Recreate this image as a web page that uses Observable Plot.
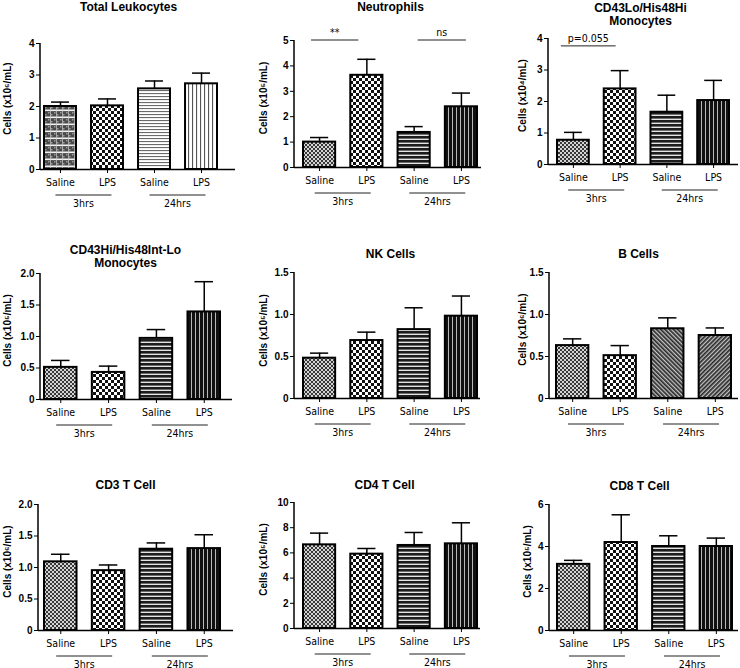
<!DOCTYPE html>
<html><head><meta charset="utf-8">
<script src="https://cdn.jsdelivr.net/npm/d3@7"></script>
<script src="https://cdn.jsdelivr.net/npm/@observablehq/plot@0.6"></script>
<style>
html,body{margin:0;padding:0;background:#fff;}
#root{position:relative;width:740px;height:668px;overflow:hidden;background:#fff;}
svg.panel{position:absolute;overflow:visible;background:transparent !important;}
.panel [aria-label^="y-axis"] text{font-weight:bold;font-family:'Liberation Sans',Arial,sans-serif;font-size:10px;}
.panel [aria-label^="x-axis"] text{font-family:'Liberation Sans Narrow','DejaVu Sans Condensed','Liberation Sans',sans-serif;font-size:10.5px;}
.narrow{font-family:'Liberation Sans Narrow','DejaVu Sans Condensed','Liberation Sans',sans-serif;font-size:10.5px;}
</style></head>
<body>
<svg width="0" height="0" style="position:absolute">
<defs>
<pattern id="sal3" width="4" height="4" patternUnits="userSpaceOnUse">
  <rect width="4" height="4" fill="#d4d4d4"/>
  <rect width="2" height="2" fill="#383838"/>
  <rect x="2" y="2" width="2" height="2" fill="#383838"/>
</pattern>
<pattern id="lps3" width="6" height="6" patternUnits="userSpaceOnUse">
  <rect width="6" height="6" fill="#ffffff"/>
  <rect width="3" height="3" fill="#111"/>
  <rect x="3" y="3" width="3" height="3" fill="#111"/>
</pattern>
<pattern id="sal24" width="4" height="4" patternUnits="userSpaceOnUse">
  <rect width="4" height="4" fill="#e4e4e4"/>
  <rect width="4" height="2.6" fill="#1c1c1c"/>
</pattern>
<pattern id="lps24" width="4" height="4" patternUnits="userSpaceOnUse">
  <rect width="4" height="4" fill="#b8b8b8"/>
  <rect width="3" height="4" fill="#111"/>
</pattern>
<pattern id="tlSal3" width="6" height="7" patternUnits="userSpaceOnUse">
  <rect width="6" height="7" fill="#4a4a4a"/>
  <rect x="0" y="0" width="1.5" height="1.5" fill="#9a9a9a"/>
  <rect x="3" y="2" width="1.5" height="1.5" fill="#9a9a9a"/>
  <rect x="0" y="4.5" width="6" height="1.6" fill="#f2f2f2"/>
  <rect x="2" y="0" width="1" height="7" fill="#cfcfcf" opacity="0.7"/>
</pattern>
<pattern id="tlSal24" width="3" height="3" patternUnits="userSpaceOnUse">
  <rect width="3" height="3" fill="#ffffff"/>
  <rect width="3" height="1.1" fill="#6a6a6a"/>
</pattern>
<pattern id="tlLps24" width="4" height="4" patternUnits="userSpaceOnUse">
  <rect width="4" height="4" fill="#ffffff"/>
  <rect width="1.1" height="4" fill="#555"/>
</pattern>
<pattern id="diagA" width="3" height="3" patternUnits="userSpaceOnUse" patternTransform="rotate(-45)">
  <rect width="3" height="3" fill="#c4c4c4"/>
  <rect width="1.7" height="3" fill="#2a2a2a"/>
</pattern>
<pattern id="diagB" width="3" height="3" patternUnits="userSpaceOnUse" patternTransform="rotate(45)">
  <rect width="3" height="3" fill="#c4c4c4"/>
  <rect width="1.7" height="3" fill="#2a2a2a"/>
</pattern>
</defs>
</svg>
<div id="root"></div>
<script>
// ---------- data ----------
const groupKeys = ["S3", "L3", "S24", "L24"];
const tickNames = ["Saline", "LPS", "Saline", "LPS"];
const timeLabels = ["3hrs", "24hrs"];

const panelTitles = ["Total Leukocytes", "Neutrophils", "CD43Lo/His48Hi\nMonocytes",
  "CD43Hi/His48Int-Lo\nMonocytes", "NK Cells", "B Cells", "CD3 T Cell", "CD4 T Cell", "CD8 T Cell"];
const yLabels = ["Cells (x10⁶/mL)", "Cells (x10⁵/mL)", "Cells (x10⁴/mL)",
  "Cells (x10⁵/mL)", "Cells (x10⁵/mL)", "Cells (x10⁶/mL)",
  "Cells (x10⁶/mL)", "Cells (x10⁵/mL)", "Cells (x10⁵/mL)"];
const yMaxes = [4, 5, 4, 2, 1.5, 1.5, 2, 10, 6];
const yTickValues = [
  [0, 1, 2, 3, 4], [0, 1, 2, 3, 4, 5], [0, 1, 2, 3, 4],
  [0, 0.5, 1, 1.5, 2], [0, 0.5, 1, 1.5], [0, 0.5, 1, 1.5],
  [0, 0.5, 1, 1.5, 2], [0, 2, 4, 6, 8, 10], [0, 2, 4, 6]];
const yDecimals = [0, 0, 0, 1, 1, 1, 1, 0, 0];

const meanTotalLeuk = [2.00, 2.02, 2.56, 2.72];
const semTotalLeuk  = [0.14, 0.22, 0.25, 0.34];
const meanNeutro    = [1.00, 3.63, 1.38, 2.39];
const semNeutro     = [0.18, 0.63, 0.23, 0.54];
const meanCD43Lo    = [0.77, 2.40, 1.66, 2.03];
const semCD43Lo     = [0.25, 0.58, 0.54, 0.64];
const meanCD43Hi    = [0.51, 0.43, 0.97, 1.39];
const semCD43Hi     = [0.11, 0.10, 0.14, 0.48];
const meanNK        = [0.48, 0.69, 0.82, 0.98];
const semNK         = [0.06, 0.10, 0.26, 0.24];
const meanBCell     = [0.63, 0.51, 0.83, 0.75];
const semBCell      = [0.08, 0.12, 0.13, 0.09];
const meanCD3       = [1.09, 0.95, 1.29, 1.30];
const semCD3        = [0.12, 0.09, 0.10, 0.22];
const meanCD4       = [6.64, 5.90, 6.59, 6.72];
const semCD4        = [0.93, 0.45, 1.03, 1.67];
const meanCD8       = [3.15, 4.19, 4.00, 4.00];
const semCD8        = [0.19, 1.32, 0.51, 0.40];

const panelMeans = [meanTotalLeuk, meanNeutro, meanCD43Lo, meanCD43Hi, meanNK, meanBCell, meanCD3, meanCD4, meanCD8];
const panelSems  = [semTotalLeuk, semNeutro, semCD43Lo, semCD43Hi, semNK, semBCell, semCD3, semCD4, semCD8];

const sigPanels = [1, 1, 2];
const sigFrom   = ["S3", "S24", "S3"];
const sigTo     = ["L3", "L24", "L3"];
const sigValue  = [5, 5, 3.75];
const sigLabels = ["**", "ns", "p=0.055"];

// ---------- styling / layout ----------
const defaultPatterns = ["sal3", "lps3", "sal24", "lps24"];
const panelPatterns = [
  ["tlSal3", "lps3", "tlSal24", "tlLps24"], defaultPatterns, defaultPatterns,
  defaultPatterns, defaultPatterns, ["sal3", "lps3", "diagA", "diagB"],
  defaultPatterns, defaultPatterns, defaultPatterns];

const LAYOUT = [
  {left: 0,   top: 0,   w: 245, h: 215, axisX: 40,  axisEnd: 235, y0: 169, yTop: 43,  bar0: 44,  bar1: 217, titleX: 128, titleY: 6.5,   ylabX: 7,   ylabDy: -8},
  {left: 245, top: 0,   w: 245, h: 215, axisX: 294, axisEnd: 481, y0: 167, yTop: 40,  bar0: 303, bar1: 477, titleX: 390, titleY: 6,     ylabX: 263, ylabDy: -6},
  {left: 490, top: 0,   w: 250, h: 215, axisX: 548, axisEnd: 738, y0: 164, yTop: 38,  bar0: 557, bar1: 729, titleX: 640, titleY: 14,    ylabX: 522, ylabDy: -6},
  {left: 0,   top: 215, w: 245, h: 230, axisX: 40,  axisEnd: 232, y0: 399, yTop: 273, bar0: 44,  bar1: 220, titleX: 125, titleY: 255.5, ylabX: 7,   ylabDy: -6},
  {left: 245, top: 215, w: 245, h: 230, axisX: 294, axisEnd: 480, y0: 398, yTop: 272, bar0: 303, bar1: 477, titleX: 390, titleY: 253.5, ylabX: 263, ylabDy: -5},
  {left: 490, top: 215, w: 250, h: 230, axisX: 549, axisEnd: 738, y0: 398, yTop: 272, bar0: 556, bar1: 731, titleX: 638, titleY: 253.5, ylabX: 522, ylabDy: -6},
  {left: 0,   top: 445, w: 245, h: 223, axisX: 38,  axisEnd: 233, y0: 630, yTop: 504, bar0: 44,  bar1: 220, titleX: 125, titleY: 484,   ylabX: 7,   ylabDy: -6},
  {left: 245, top: 445, w: 245, h: 223, axisX: 294, axisEnd: 480, y0: 628, yTop: 502, bar0: 303, bar1: 477, titleX: 384, titleY: 484,   ylabX: 263, ylabDy: -6},
  {left: 490, top: 445, w: 250, h: 223, axisX: 549, axisEnd: 738, y0: 630, yTop: 504, bar0: 557, bar1: 732, titleX: 639, titleY: 485,   ylabX: 527, ylabDy: -6}
];
const sigOffsets = [[-8, -8], [4, 5], [-12, -4]];

const FONT = "'Liberation Sans', Arial, sans-serif";
const root = document.getElementById("root");

LAYOUT.forEach((L, i) => {
  const rows = groupKeys.map((k, j) => ({key: k, mean: panelMeans[i][j], sem: panelSems[i][j]}));
  const pats = panelPatterns[i];
  const dec = yDecimals[i];
  const svg = Plot.plot({
    width: L.w, height: L.h,
    marginLeft: L.axisX - L.left,
    marginRight: L.left + L.w - L.axisEnd,
    marginTop: L.yTop - L.top,
    marginBottom: L.top + L.h - L.y0,
    style: {fontFamily: FONT, fontSize: "10px", background: "transparent", overflow: "visible", color: "#000"},
    x: {type: "band", domain: groupKeys, range: [L.bar0 - L.left, L.bar1 - L.left],
        paddingInner: 0.32, paddingOuter: 0, round: false,
        tickSize: 4, tickPadding: 5, label: null,
        tickFormat: k => tickNames[groupKeys.indexOf(k)]},
    y: {domain: [0, yMaxes[i]], ticks: yTickValues[i], tickSize: 4, tickPadding: 2, label: null,
        tickFormat: v => v === 0 ? "0" : v.toFixed(dec)},
    marks: [
      Plot.ruleX(rows, {x: "key", y1: "mean", y2: d => d.mean + d.sem, stroke: "#000", strokeWidth: 1.5}),
      Plot.tickY(rows, {x: "key", y: d => d.mean + d.sem, insetLeft: 7, insetRight: 7, stroke: "#000", strokeWidth: 1.5}),
      ...groupKeys.map((k, j) => Plot.barY(rows.filter(r => r.key === k),
        {x: "key", y: "mean", fill: `url(#${pats[j]})`, stroke: "#000", strokeWidth: 2})),
      Plot.ruleY([0], {stroke: "#000", strokeWidth: 1.5}),
      Plot.text([panelTitles[i]], {frameAnchor: "top-left", text: d => d,
        dx: L.titleX - L.axisX, dy: L.titleY - L.yTop, textAnchor: "middle", lineAnchor: "middle",
        fontWeight: "bold", fontSize: 12, fill: "#000", lineHeight: 1.1}),
      Plot.text([yLabels[i]], {frameAnchor: "left", text: d => d, rotate: -90,
        dx: L.ylabX - L.axisX, dy: L.ylabDy, textAnchor: "middle", lineAnchor: "middle",
        fontWeight: "bold", fontSize: 10, fill: "#000"})
    ]
  });
  svg.classList.add("panel");
  svg.style.left = L.left + "px";
  svg.style.top = L.top + "px";

  const xs = svg.scale("x"), ys = svg.scale("y");
  const bw = xs.bandwidth;
  const cx = k => xs.apply(k) + bw / 2;
  const g = d3.select(svg).append("g");
  // y axis line
  g.append("line")
    .attr("x1", L.axisX - L.left).attr("x2", L.axisX - L.left)
    .attr("y1", ys.apply(0)).attr("y2", ys.apply(yMaxes[i]))
    .attr("stroke", "#000").attr("stroke-width", 1.5);
  // time group brackets
  const base = ys.apply(0);
  timeLabels.forEach((t, gi) => {
    const mid = (cx(groupKeys[gi * 2]) + cx(groupKeys[gi * 2 + 1])) / 2;
    g.append("line").attr("x1", mid - 28).attr("x2", mid + 28)
      .attr("y1", base + 26).attr("y2", base + 26)
      .attr("stroke", "#222").attr("stroke-width", 1);
    g.append("text").attr("class", "narrow").attr("x", mid).attr("y", base + 34)
      .attr("dy", "0.35em").attr("text-anchor", "middle").attr("fill", "#000").text(t);
  });
  // significance annotations
  sigPanels.forEach((p, s) => {
    if (p !== i) return;
    const x1 = cx(sigFrom[s]) + sigOffsets[s][0];
    const x2 = cx(sigTo[s]) + sigOffsets[s][1];
    const yy = ys.apply(sigValue[s]);
    g.append("line").attr("x1", x1).attr("x2", x2).attr("y1", yy).attr("y2", yy)
      .attr("stroke", "#222").attr("stroke-width", 1);
    g.append("text").attr("class", "narrow").attr("x", (x1 + x2) / 2).attr("y", yy - 4)
      .attr("text-anchor", "middle").attr("fill", "#000").text(sigLabels[s]);
  });
  root.appendChild(svg);
});
</script>
</body></html>
